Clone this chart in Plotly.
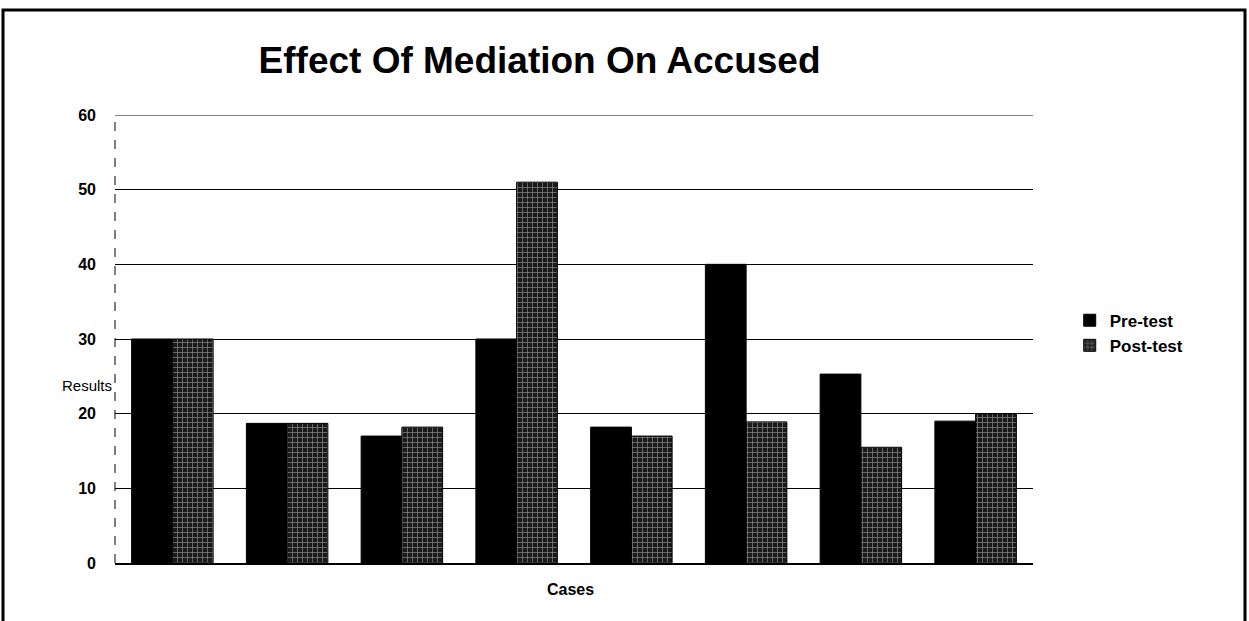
import plotly.graph_objects as go

cases = ["1", "2", "3", "4", "5", "6", "7", "8"]
pre_test = [30, 18.7, 17, 30, 18.2, 40, 25.3, 19]
post_test = [30, 18.7, 18.2, 51, 17, 18.9, 15.5, 20]
y_ticks = [0, 10, 20, 30, 40, 50, 60]

FONT = "Liberation Sans, Arial, sans-serif"

fig = go.Figure()
fig.add_trace(go.Bar(
    x=cases, y=pre_test, name="Pre-test",
    marker=dict(color="#000000", line=dict(color="#000000", width=1)),
))
fig.add_trace(go.Bar(
    x=cases, y=post_test, name="Post-test",
    marker=dict(
        color="#1a1a1a",
        line=dict(color="#000000", width=1),
        pattern=dict(shape="+", fgcolor="#ffffff", bgcolor="#1a1a1a",
                     size=5, solidity=0.25, fillmode="overlay"),
    ),
))

fig.update_layout(
    width=1249, height=621,
    margin=dict(l=115, r=216, t=115, b=58),
    paper_bgcolor="white", plot_bgcolor="white",
    barmode="group", bargap=0.29, bargroupgap=0,
    showlegend=True,
    legend=dict(x=1.04, y=0.513, xanchor="left", yanchor="middle",
                font=dict(family=FONT, size=17, color="black", weight="bold"),
                bgcolor="rgba(0,0,0,0)", tracegroupgap=2),
    title=dict(text="Effect Of Mediation On Accused", x=0.432, xanchor="center",
               y=1 - 60 / 621, yanchor="middle", xref="container", yref="container",
               font=dict(family=FONT, size=37, color="black", weight="bold")),
    font=dict(family=FONT, color="black"),
)

fig.update_xaxes(
    showticklabels=False, ticks="", showgrid=False,
    showline=True, linecolor="#000000", linewidth=2,
)
fig.update_yaxes(
    range=[0, 60], tickvals=y_ticks, ticktext=[str(v) for v in y_ticks],
    showgrid=True, gridcolor="#000000", gridwidth=1,
    showline=False, zeroline=False, ticks="",
    ticklabelstandoff=18,
    tickfont=dict(family=FONT, size=16, color="black", weight="bold"),
)

# top gridline at 60
fig.add_shape(type="line", xref="paper", yref="y", x0=0, x1=1, y0=60, y1=60,
              line=dict(color="#000000", width=1))
# dashed left axis line
fig.add_shape(type="line", xref="paper", yref="paper", x0=0, x1=0, y0=0, y1=1,
              line=dict(color="#000000", width=1, dash="dash"))
# outer border
fig.add_shape(type="rect", xref="paper", yref="paper",
              x0=(3 - 115) / 918, x1=(1245 - 115) / 918,
              y0=(563 - 630) / 448, y1=(563 - 10) / 448,
              line=dict(color="#000000", width=3))

fig.add_annotation(text="Results", xref="paper", yref="paper",
                   x=(60 - 115) / 918, y=(563 - 385) / 448, showarrow=False,
                   font=dict(family=FONT, size=15, color="black"))
fig.add_annotation(text="Cases", xref="paper", yref="paper",
                   x=(570 - 115) / 918, y=(563 - 600) / 448, showarrow=False,
                   font=dict(family=FONT, size=16, color="black", weight="bold"))

fig.write_html("out.html")
